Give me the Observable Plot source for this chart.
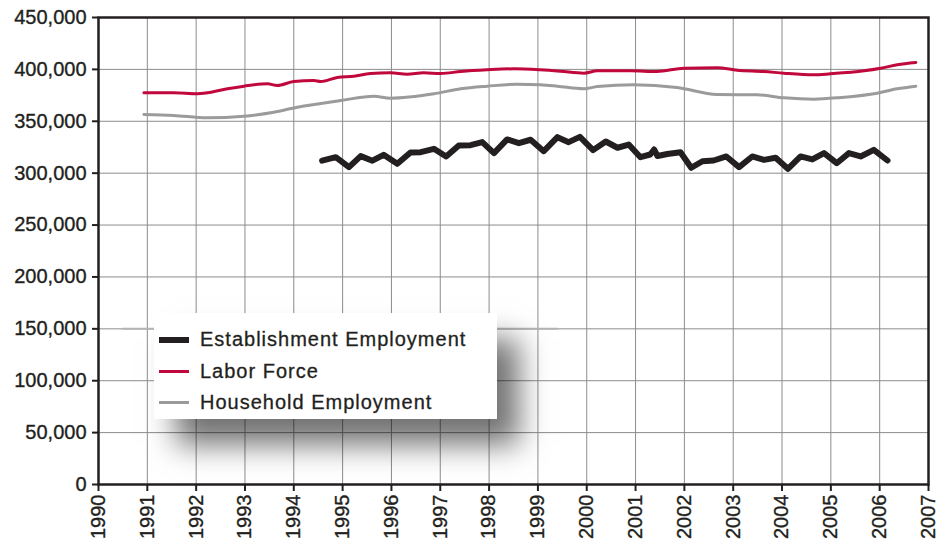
<!DOCTYPE html>
<html>
<head>
<meta charset="utf-8">
<script src="https://cdn.jsdelivr.net/npm/d3@7"></script>
<script src="https://cdn.jsdelivr.net/npm/@observablehq/plot@0.6"></script>
<style>
  html, body { margin: 0; padding: 0; background: #fff; }
  #wrap { position: relative; width: 938px; height: 542px; font-family: "Liberation Sans", Arial, Helvetica, sans-serif; }
  #wrap svg text { stroke: #231f20; stroke-width: 0.35px; }
  #legend {
    position: absolute; left: 154px; top: 313px; width: 343px; height: 106px;
    background: #fff; box-shadow: 22px 26px 28px rgba(0,0,0,0.55);
    box-sizing: border-box; padding: 11px 0 0 5px;
    font-size: 20px; letter-spacing: 1px; color: #231f20;
    -webkit-text-stroke: 0.3px #231f20;
  }
  .item { height: 31.5px; display: flex; align-items: center; }
  .sw { width: 30px; margin-right: 11px; }
</style>
</head>
<body>
<div id="wrap"></div>
<script>
// Labor Force (red)
const laborYears = [1990.93,1991.54,1992.02,1992.23,1992.64,1992.98,1993.46,1993.66,1994.00,1994.41,1994.55,1994.89,1995.23,1995.57,1995.98,1996.32,1996.66,1997.01,1997.42,1997.96,1998.51,1999.05,1999.46,1999.94,2000.22,2000.90,2001.44,2001.99,2002.67,2003.08,2003.63,2004.04,2004.65,2004.99,2005.68,2006.02,2006.36,2006.74];
const laborValues = [377440,377440,376480,377440,381300,383800,386110,384480,388330,389290,388330,392180,393440,396040,396710,395370,396710,396040,397970,399600,400570,399600,398260,396330,398640,398640,397970,401150,401530,399220,397970,396330,394790,395750,398640,401150,404420,406640];

// Household Employment (gray)
const householdYears = [1990.93,1991.54,1992.23,1992.98,1993.59,1994.07,1994.96,1995.64,1995.98,1996.87,1997.42,1997.96,1998.58,1999.05,1999.40,1999.94,2000.22,2000.96,2001.85,2002.67,2003.49,2004.04,2004.65,2005.20,2005.95,2006.36,2006.74];
const householdValues = [356530,355570,353350,354890,358750,363570,370020,374170,372240,376480,381300,383800,385730,385150,383800,381300,383510,385150,382550,375800,375510,372620,371270,372910,377060,381300,383800];

// Establishment Employment (black)
const estabYears = [1994.58,1994.86,1995.13,1995.37,1995.61,1995.84,1996.12,1996.39,1996.60,1996.87,1997.12,1997.38,1997.62,1997.86,1998.10,1998.37,1998.61,1998.85,1999.12,1999.40,1999.63,1999.86,2000.13,2000.39,2000.63,2000.86,2001.10,2001.30,2001.38,2001.45,2001.65,2001.92,2002.14,2002.37,2002.60,2002.86,2003.12,2003.39,2003.63,2003.87,2004.12,2004.38,2004.62,2004.86,2005.12,2005.37,2005.61,2005.88,2006.16];
const estabValues = [312000,315400,305800,316400,312000,317700,309000,319900,320200,323500,316100,326700,327000,329900,319300,332500,328900,332200,321200,334700,329900,335000,322200,330500,324500,327600,315400,318000,322800,316500,318500,320200,305200,311500,312200,316100,305800,316100,312800,314800,304200,316100,313200,319300,309600,319300,316100,322500,312200];

// faint stray segment at 150,000
const strayYears = [1990.5, 1999.4];
const strayValues = [150000, 150000];

const yearTicks = d3.range(1990, 2008);
const valueTicks = d3.range(0, 450001, 50000);

const toRows = (xs, vs) => xs.map((x, i) => ({x, v: vs[i]}));
const labor = toRows(laborYears, laborValues);
const household = toRows(householdYears, householdValues);
const estab = toRows(estabYears, estabValues);
const stray = toRows(strayYears, strayValues);

const ink = "#231f20";
const red = "#c0083c";
const gray = "#9b9b9d";

const chart = Plot.plot({
  width: 938,
  height: 542,
  marginLeft: 98,
  marginRight: 10,
  marginTop: 17,
  marginBottom: 58,
  style: { fontFamily: '"Liberation Sans", Arial, Helvetica, sans-serif', fontSize: "20px", color: ink, background: "#fff" },
  x: { domain: [1990, 2007], label: null },
  y: { domain: [0, 450000], label: null },
  marks: [
    Plot.gridX(yearTicks, { stroke: "#8c8c8c", strokeOpacity: 1, strokeWidth: 1 }),
    Plot.gridY(valueTicks, { stroke: "#8c8c8c", strokeOpacity: 1, strokeWidth: 1 }),
    Plot.line(stray, { x: "x", y: "v", stroke: "#b4b4b4", strokeWidth: 2 }),
    Plot.axisY(valueTicks, { label: null, tickSize: 6, tickPadding: 6, tickFormat: d3.format(","), stroke: ink, strokeWidth: 2, fill: ink, fontSize: 20 }),
    Plot.axisX(yearTicks, { label: null, tickSize: 7, tickPadding: 3, tickRotate: -90, tickFormat: d => String(d), stroke: ink, strokeWidth: 2, fill: ink, fontSize: 20 }),
    Plot.line(household, { x: "x", y: "v", stroke: gray, strokeWidth: 3, curve: "monotone-x" }),
    Plot.line(labor, { x: "x", y: "v", stroke: red, strokeWidth: 3, curve: "monotone-x" }),
    Plot.line(estab, { x: "x", y: "v", stroke: ink, strokeWidth: 6, strokeLinejoin: "round" }),
    Plot.frame({ stroke: ink, strokeWidth: 2.5 })
  ]
});

const wrap = document.getElementById("wrap");
wrap.appendChild(chart);

const legendItems = [
  { label: "Establishment Employment", color: ink, w: 6 },
  { label: "Labor Force", color: red, w: 3 },
  { label: "Household Employment", color: gray, w: 3 }
];
const legend = document.createElement("div");
legend.id = "legend";
for (const it of legendItems) {
  const row = document.createElement("div");
  row.className = "item";
  const sw = document.createElement("span");
  sw.className = "sw";
  sw.style.height = it.w + "px";
  sw.style.background = it.color;
  const tx = document.createElement("span");
  tx.textContent = it.label;
  row.appendChild(sw);
  row.appendChild(tx);
  legend.appendChild(row);
}
wrap.appendChild(legend);
</script>
</body>
</html>
